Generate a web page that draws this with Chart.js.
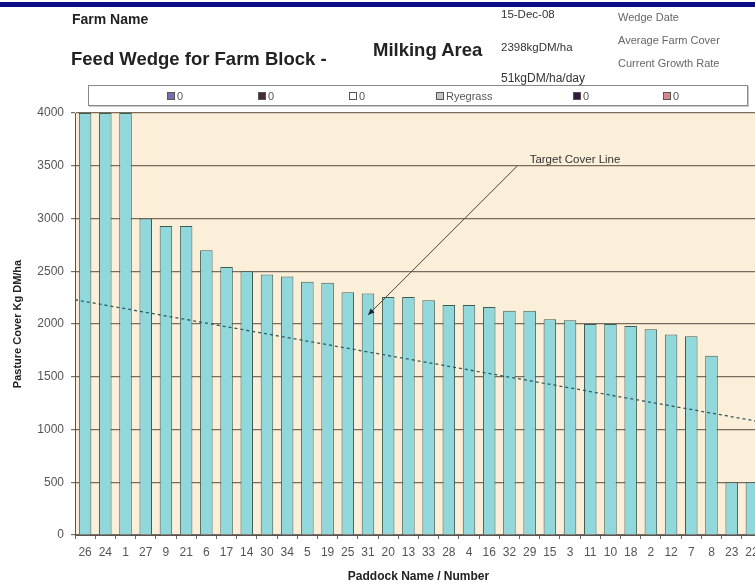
<!DOCTYPE html>
<html>
<head>
<meta charset="utf-8">
<script src="https://cdn.jsdelivr.net/npm/chart.js@4"></script>
<style>
    body { margin: 0; background: #fff; font-family: "Liberation Sans", Arial, sans-serif; }
    #wrap { position: relative; width: 755px; height: 584px; overflow: hidden; }
    #wrap canvas { position: absolute; left: 0; top: 0; }
    .txt { position: absolute; white-space: nowrap; line-height: 1; transform: translateY(-50%); }
    .bar-top { position: absolute; left: 0; top: 2px; width: 755px; height: 5px; background: #0c0c88; }
    #legend { position: absolute; left: 88px; top: 85px; width: 658px; height: 19px; border: 1px solid #8a8a8a; box-shadow: 1px 1px 0 #c8c8c8; background: #fff; }
    .leg { position: absolute; top: 50%; transform: translateY(-50%); font-size: 11px; color: #555; white-space: nowrap; }
    .sw { display: inline-block; width: 6px; height: 6px; border: 1px solid #555; margin-right: 2px; vertical-align: 0px; }
</style>
</head>
<body>
<div id="wrap">
    <canvas id="wedge" width="770" height="584"></canvas>
    <div class="bar-top"></div>
    <div class="txt" style="left:72px; top:19px; font-size:14px; font-weight:bold; color:#222;">Farm Name</div>
    <div class="txt" style="left:71px; top:59px; font-size:18.5px; font-weight:bold; color:#222;">Feed Wedge for Farm Block -</div>
    <div class="txt" style="left:373px; top:50px; font-size:18.5px; font-weight:bold; color:#222;">Milking Area</div>
    <div class="txt" style="left:501px; top:15px; font-size:11.5px; color:#333;">15-Dec-08</div>
    <div class="txt" style="left:501px; top:48px; font-size:11.5px; color:#333;">2398kgDM/ha</div>
    <div class="txt" style="left:501px; top:78px; font-size:12px; color:#333;">51kgDM/ha/day</div>
    <div class="txt" style="left:618px; top:17px; font-size:11px; color:#666;">Wedge Date</div>
    <div class="txt" style="left:618px; top:40px; font-size:11px; color:#666;">Average Farm Cover</div>
    <div class="txt" style="left:618px; top:63px; font-size:11px; color:#666;">Current Growth Rate</div>
    <div id="legend"></div>
</div>
<script>
// paddocks sorted by cover, highest first
const paddocks = ['26', '24', '1', '27', '9', '21', '6', '17', '14', '30', '34', '5', '19', '25', '31', '20', '13',
    '33', '28', '4', '16', '32', '29', '15', '3', '11', '10', '18', '2', '12', '7', '8', '23', '22'];
const coverKgDM = [4000, 4000, 4000, 3000, 2930, 2930, 2700, 2540, 2500, 2470, 2450, 2400, 2390, 2300, 2290, 2255, 2255,
    2225, 2180, 2180, 2160, 2125, 2125, 2045, 2035, 2000, 2000, 1980, 1950, 1900, 1885, 1700, 500, 500];
// target cover line, start and end of the wedge
const targetStart = 2230;
const targetEnd = 1070;
const yTicks = { min: 0, max: 4000, step: 500 };

const legendLabels = ['0', '0', '0', 'Ryegrass', '0', '0'];
const legendSwatch = ['#6f6fb0', '#4a2a3a', '#ffffff', '#c4c4c4', '#341640', '#d48a8a'];
const legendLeft = [78, 169, 260, 347, 484, 574]; // px inside legend box

let legendDiv = document.getElementById('legend');
for (let i = 0; i < legendLabels.length; i++) {
    legendDiv.innerHTML += `<div class='leg' style='left:${legendLeft[i]}px;'><span class='sw' style='background:${legendSwatch[i]};'></span>${legendLabels[i]}</div>`;
}

const plotBg = {
    id: 'plotBg',
    beforeDraw(chart) {
        const { ctx, chartArea: a } = chart;
        ctx.save();
        ctx.fillStyle = '#fcefd9';
        ctx.fillRect(a.left, a.top, a.right - a.left, a.bottom - a.top);
        ctx.restore();
    }
};

// "Target Cover Line" callout with arrow
const targetNote = {
    id: 'targetNote',
    afterDatasetsDraw(chart) {
        const { ctx } = chart;
        const xs = chart.scales.xt, ys = chart.scales.y;
        const x0 = xs.getPixelForValue(21.9), y0 = ys.getPixelForValue(3500);
        const x1 = xs.getPixelForValue(14.5), y1 = ys.getPixelForValue(2085);
        ctx.save();
        ctx.strokeStyle = '#4a4438';
        ctx.lineWidth = 1;
        ctx.beginPath();
        ctx.moveTo(x0, y0);
        ctx.lineTo(x1, y1);
        ctx.stroke();
        let ang = Math.atan2(y1 - y0, x1 - x0);
        ctx.fillStyle = '#1a2a3a';
        ctx.beginPath();
        ctx.moveTo(x1, y1);
        ctx.lineTo(x1 - 7 * Math.cos(ang - 0.4), y1 - 7 * Math.sin(ang - 0.4));
        ctx.lineTo(x1 - 7 * Math.cos(ang + 0.4), y1 - 7 * Math.sin(ang + 0.4));
        ctx.closePath();
        ctx.fill();
        ctx.fillStyle = '#333';
        ctx.font = '11.5px "Liberation Sans", Arial';
        ctx.textBaseline = 'middle';
        ctx.fillText('Target Cover Line', xs.getPixelForValue(22.5), ys.getPixelForValue(3555));
        ctx.restore();
    }
};

var ctx = document.getElementById('wedge');
var chart = new Chart(ctx, {
    type: 'bar',
    data: {
        labels: paddocks,
        datasets: [
            {
                label: 'Ryegrass',
                data: coverKgDM,
                backgroundColor: '#90d8dc',
                borderColor: '#3e5c52',
                borderWidth: 1,
                barPercentage: 0.62,
                categoryPercentage: 1,
                grouped: false,
                xAxisID: 'x',
                order: 1
            },
            {
                type: 'line',
                label: 'Target',
                data: [{ x: 0, y: targetStart }, { x: paddocks.length, y: targetEnd }],
                xAxisID: 'xt',
                borderColor: '#2f5a5c',
                borderWidth: 1.3,
                borderDash: [3, 3],
                pointRadius: 0,
                fill: false,
                order: 0
            }
        ]
    },
    options: {
        responsive: false,
        animation: false,
        devicePixelRatio: 1,
        layout: { padding: { top: 113, right: 8, bottom: 0, left: 0 } },
        plugins: {
            legend: { display: false },
            tooltip: { enabled: false }
        },
        scales: {
            x: {
                type: 'category',
                offset: true,
                grid: { display: true, drawOnChartArea: false, drawTicks: true, tickLength: 4, color: '#666', offset: true },
                border: { color: '#555', width: 1 },
                ticks: { autoSkip: false, maxRotation: 0, padding: 6, color: '#555', font: { family: 'Liberation Sans', size: 12 } },
                title: {
                    display: true,
                    text: 'Paddock Name / Number',
                    color: '#222',
                    font: { family: 'Liberation Sans', size: 12, weight: 'bold' },
                    padding: { top: 0, bottom: 0 }
                },
                afterFit: (scale) => { scale.height = 49; }
            },
            xt: {
                type: 'linear',
                display: false,
                offset: false,
                min: 0,
                max: paddocks.length,
                grid: { offset: false }
            },
            y: {
                min: yTicks.min,
                max: yTicks.max,
                grid: { color: '#7a6c5c', lineWidth: 1.2, tickLength: 4 },
                border: { color: '#555', width: 1 },
                ticks: {
                    stepSize: yTicks.step, padding: 7, color: '#555', font: { family: 'Liberation Sans', size: 12 },
                    callback: (v) => String(v)
                },
                title: {
                    display: true,
                    text: 'Pasture Cover Kg DM/ha',
                    color: '#222',
                    font: { family: 'Liberation Sans', size: 11, weight: 'bold' },
                    padding: { top: 11, bottom: 11 }
                },
                afterFit: (scale) => { scale.width = 75; }
            }
        }
    },
    plugins: [plotBg, targetNote]
});
</script>
</body>
</html>
